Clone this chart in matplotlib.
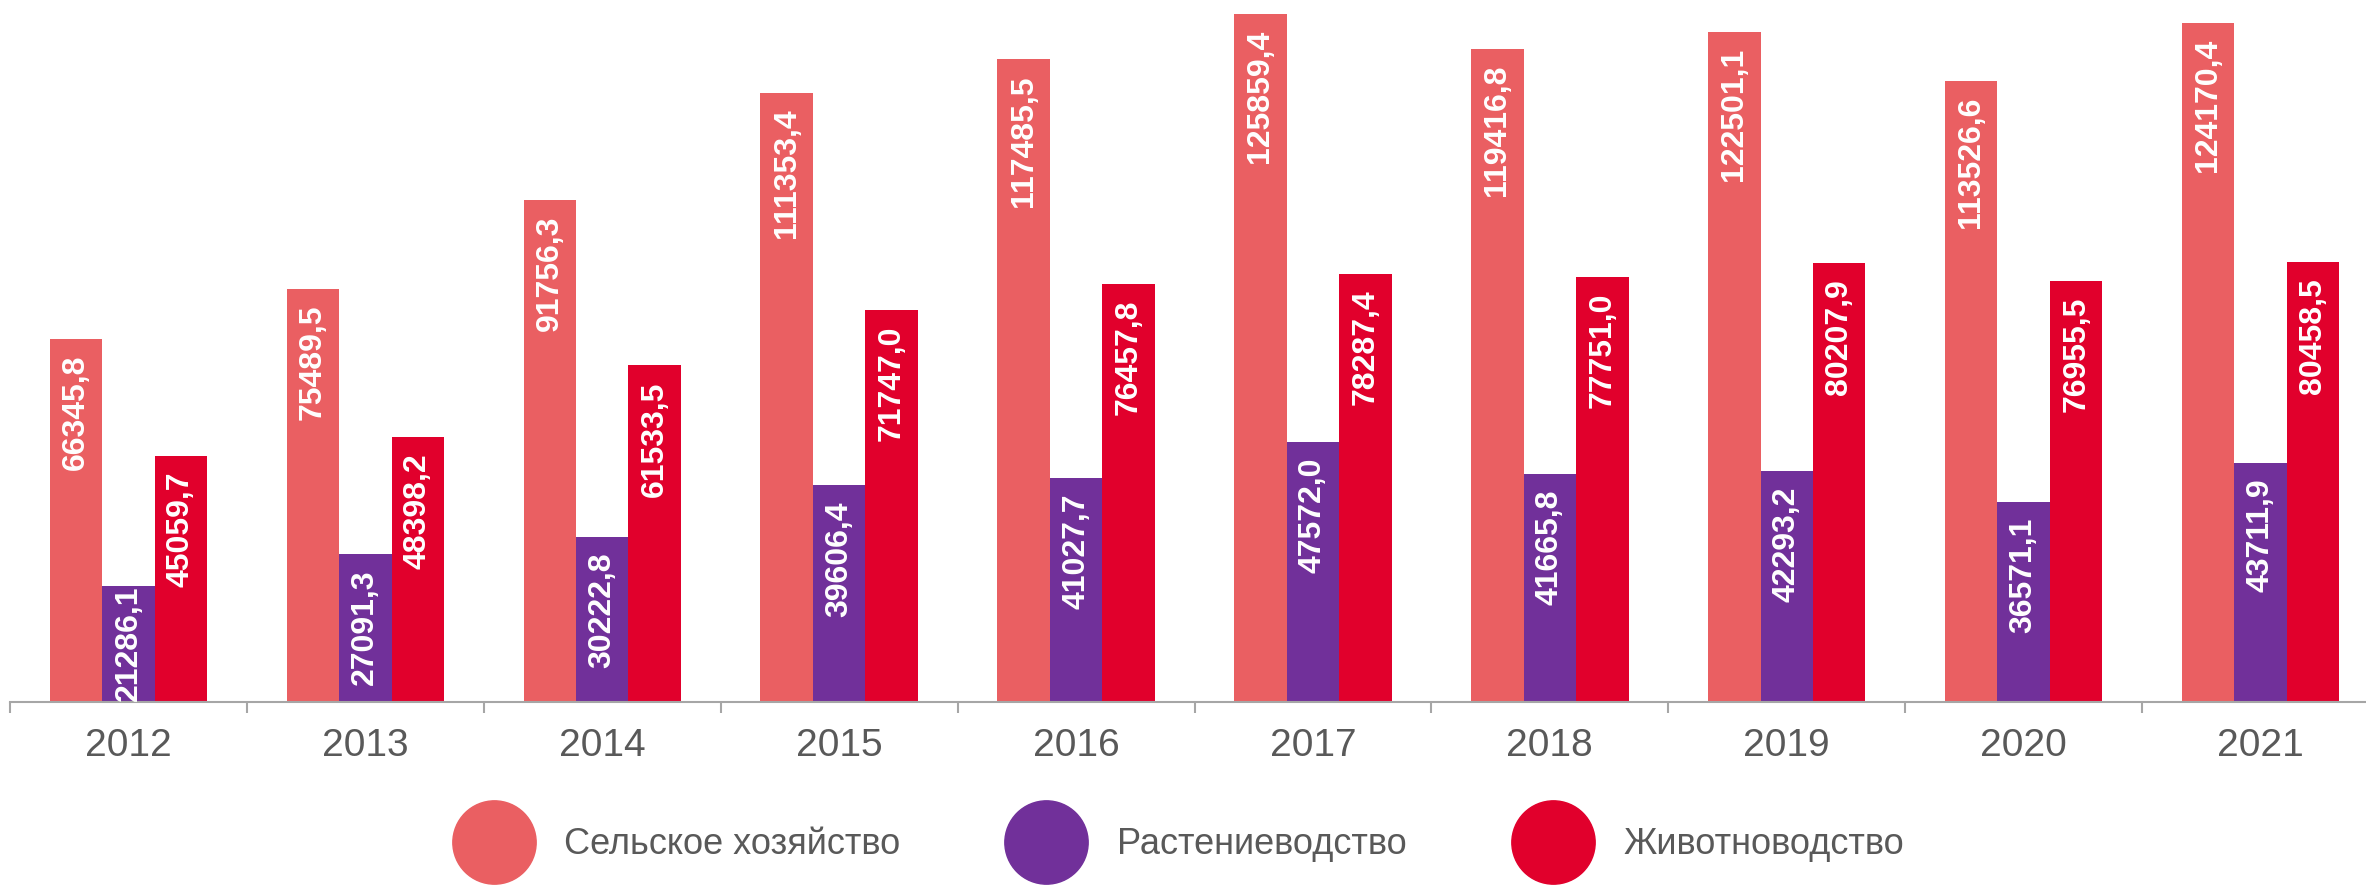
import numpy as np
import matplotlib
matplotlib.use("Agg")
import matplotlib.pyplot as plt
from matplotlib.lines import Line2D

# values
years = ["2012", "2013", "2014", "2015", "2016", "2017", "2018", "2019", "2020", "2021"]
agri = [66345.8, 75489.5, 91756.3, 111353.4, 117485.5, 125859.4, 119416.8, 122501.1, 113526.6, 124170.4]
crop = [21286.1, 27091.3, 30222.8, 39606.4, 41027.7, 47572.0, 41665.8, 42293.2, 36571.1, 43711.9]
live = [45059.7, 48398.2, 61533.5, 71747.0, 76457.8, 78287.4, 77751.0, 80207.9, 76955.5, 80458.5]
series_names = ["Сельское хозяйство", "Растениеводство", "Животноводство"]
colors = ["#EA5F62", "#71309A", "#E1002C"]

fonts = ["Liberation Sans", "DejaVu Sans"]

W, H = 2366, 885
fig = plt.figure(figsize=(W / 100, H / 100), dpi=100)
ax = fig.add_axes([10 / W, 183 / H, 2369 / W, 702 / H])

x = np.arange(len(years))
bw = 0.2216
for i, vals in enumerate([agri, crop, live]):
    xs = x + (i - 1) * bw
    ax.bar(xs, vals, width=bw, color=colors[i], label=series_names[i])
    for xi, v in zip(xs, vals):
        # label sits just under the bar top; short bars get it pushed up from the base
        ytop = max(v - 2900, 21300)
        ax.text(xi, ytop, f"{v:.1f}".replace(".", ","), rotation=90,
                ha="center", va="top", color="white", fontsize=23,
                fontweight="bold", family=fonts)

ax.set_xlim(-0.5, 9.5)
ax.set_ylim(0, 128336)
ax.set_yticks([])
for s in ["left", "right", "top"]:
    ax.spines[s].set_visible(False)
ax.spines["bottom"].set_color("#A6A6A6")
ax.spines["bottom"].set_linewidth(1.5)

ax.set_xticks(x)
ax.set_xticklabels(years, fontsize=28, color="#595959", family=fonts)
ax.tick_params(axis="x", which="major", length=0, pad=19)
ax.set_xticks(np.arange(-0.5, 10, 1), minor=True)
ax.tick_params(axis="x", which="minor", length=8, width=1.5, color="#A6A6A6")

handles = [Line2D([], [], marker="o", linestyle="none", markersize=60,
                  markerfacecolor=c, markeredgecolor=c) for c in colors]
fig.legend(handles, series_names, loc="center", ncol=3, frameon=False,
           bbox_to_anchor=(1178 / W, 1 - 845 / H),
           prop={"family": fonts, "size": 26}, labelcolor="#595959",
           handlelength=2.3, handletextpad=0.8, columnspacing=2.9)

fig.savefig("out.png", dpi=100)
